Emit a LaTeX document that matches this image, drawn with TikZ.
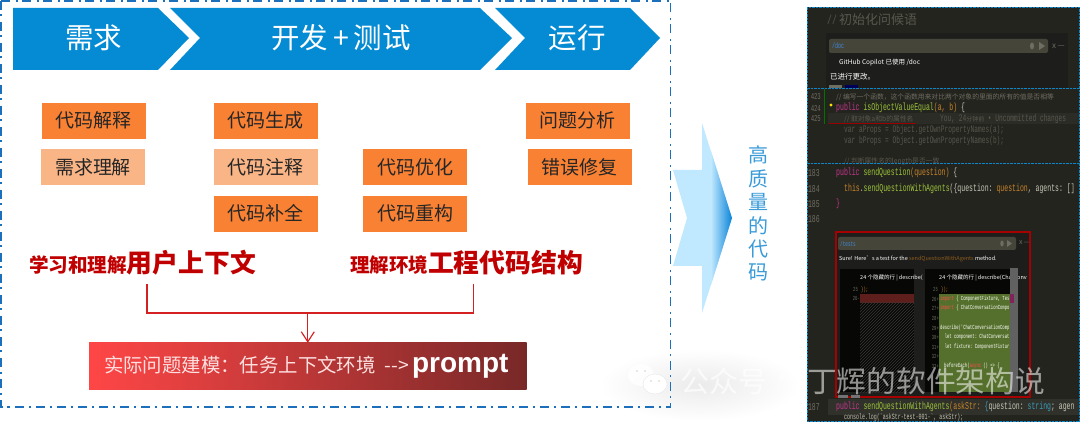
\documentclass[tikz,border=0pt]{standalone}
\usepackage{fontspec}
\setmainfont{Noto Sans CJK SC}
\setmonofont{Liberation Mono}[FakeStretch=0.62]
\newfontfamily\latinbold{Liberation Sans}
\usetikzlibrary{arrows.meta,patterns}
\newcommand{\fsz}[1]{\fontsize{#1}{#1}\selectfont}
\definecolor{chevblue}{HTML}{048BD3}
\definecolor{taskorange}{HTML}{F98133}
\definecolor{tasklight}{HTML}{F9B586}
\definecolor{framblue}{HTML}{1C6FBA}
\definecolor{headred}{HTML}{C00000}
\definecolor{linkred}{HTML}{D42020}
\definecolor{barleft}{HTML}{FF4646}
\definecolor{barright}{HTML}{782828}
\definecolor{arrowlight}{HTML}{C0E8FF}
\definecolor{arrowdark}{HTML}{0A84D8}
\definecolor{outblue}{HTML}{3A9BD8}
\definecolor{screenbg}{HTML}{24241F}
\definecolor{panelbg}{HTML}{1D1D1B}
\definecolor{inputbg}{HTML}{45453A}
\definecolor{paneblue}{HTML}{0A87C8}
\definecolor{codegrey}{HTML}{6E6E62}
\definecolor{dimgrey}{HTML}{58584E}
\definecolor{codepink}{HTML}{C8358F}
\definecolor{codegreen}{HTML}{9CC43A}
\definecolor{codeorange}{HTML}{C8842A}
\definecolor{codetext}{HTML}{C8C8B8}
\definecolor{codecyan}{HTML}{3A9CB8}
\definecolor{cmdblue}{HTML}{3E8CE0}
\definecolor{diffgreen}{HTML}{55702C}
\definecolor{diffred}{HTML}{5E1F1C}
\tikzset{
  chevlabel/.style={text=white,inner sep=0pt,font=\fsz{28.5}},
  taskbox/.style={fill=taskorange,draw=white,line width=.4pt,minimum width=105pt,minimum height=37pt,inner sep=0pt,font=\fsz{19},text=black!85},
  tasklite/.style={taskbox,fill=tasklight},
  ctxtitle/.style={text=headred,inner sep=0pt,font=\bfseries},
  linkline/.style={draw=linkred,line width=1.15pt},
  frameline/.style={draw=framblue,line width=1.5pt,dash pattern=on 9pt off 4.5pt on 2pt off 5.5pt},
  paneline/.style={draw=paneblue,line width=.9pt,dash pattern=on 2.5pt off 1pt},
  codeline/.style={anchor=west,inner sep=0pt,font=\ttfamily\fsz{#1}},
  codeline/.default=10.5,
  uitext/.style={anchor=west,inner sep=0pt,font=\fsz{#1}}
}
\begin{document}
\begin{tikzpicture}[x=1pt,y=-1pt]
\useasboundingbox (0,0) rectangle (1080,422);
% fog under the watermark
\shade [inner color=black!8,outer color=white] (700,385) ellipse (100 and 36);
% chevrons
\fill [chevblue] (13,8) -- (158,8) -- (189,38) -- (158,70) -- (13,70) -- cycle;
\fill [chevblue] (170,8) -- (480,8) -- (512,38) -- (480,70) -- (170,70) -- (200,38) -- cycle;
\fill [chevblue] (495,8) -- (630,8) -- (660,38) -- (630,70) -- (495,70) -- (525,38) -- cycle;
\node [chevlabel] (phasereq) at (93.5,38) {需求};
\node [chevlabel] (phasedev) at (341,38) {开发\,+\,测试};
\node [chevlabel] (phaserun) at (577,38) {运行};
% tasks
\node [taskbox] (taskexplain) at (93.5,120.5) {代码解释};
\node [tasklite] (taskreq) at (93,167) {需求理解};
\node [taskbox] (taskgen) at (265.5,120.5) {代码生成};
\node [tasklite] (taskcomment) at (265.5,167) {代码注释};
\node [taskbox] (taskfill) at (265.5,213.5) {代码补全};
\node [taskbox] (taskopt) at (415,167) {代码优化};
\node [taskbox] (taskrefactor) at (415,213.5) {代码重构};
\node [taskbox] (taskissue) at (577.5,120.5) {问题分析};
\node [taskbox] (taskfix) at (579.5,167) {错误修复};
% context
\node [ctxtitle] (ctxuser) at (142.5,263) {\fsz{19.6}学习和理解\fsz{25.8}用户上下文};
\node [ctxtitle] (ctxcode) at (466.5,263) {\fsz{19.5}理解环境\fsz{25.8}工程代码结构};
\coordinate (dropuser) at (147,284);
\coordinate (dropcode) at (473.5,284);
\coordinate (junction) at (307.8,313);
\node [left color=barleft,right color=barright,minimum width=437.5pt,minimum height=46pt,inner sep=0pt,text=white!88!red] (promptbar) at (307.8,366) {\hspace{-3pt}\fsz{19.4}实际问题建模\char"FF1A 任务上下文环境\hspace{9pt}{-}{-}>\hspace{3pt}{\latinbold\bfseries\fsz{28}\textcolor{white}{prompt}}};
\draw [frameline] (1,1) rectangle (670.5,407);
\draw [linkline] (dropuser) -- (dropuser |- junction) -- (junction);
\draw [linkline] (dropcode) -- (dropcode |- junction) -- (junction);
\draw [linkline,-{Straight Barb[length=10pt,width=13pt]}] (junction) -- (promptbar.north);
% block arrow
\fill [arrowlight] (673,170) -- (702,170) -- (702,123) -- (732,218) -- (702,313) -- (702,266) -- (673,266) -- (687,218) -- cycle;
\shade [left color=arrowlight,right color=arrowdark] (711,151) -- (732,218) -- (711,285) -- cycle;
\foreach \nm/\ch/\yy in {a/高/155,b/质/179,c/量/202,d/的/226,e/代/249,f/码/272}
  \node [inner sep=0pt,text=outblue,font=\fsz{20}] (out\nm) at (758,\yy) {\ch};
% screenshot
\begin{scope}
\clip (807,7) rectangle (1080,422);
\fill [screenbg] (807,7) rectangle (1080,422);
\node [codeline=13,text=dimgrey] (greet) at (827,20) {//\,{\normalfont 初始化问候语}};
\fill [panelbg] (826,33) rectangle (1068,88);
\fill [inputbg,rounded corners=2pt] (829,39) rectangle (1048,53);
\fill [codegrey] (1032,46) ellipse (2 and 3.5);
\fill [codegrey] (1039,42) -- (1045,46) -- (1039,50) -- cycle;
\node [codeline=8,text=cmdblue] (cmddoc) at (832,46) {/doc};
\node [uitext=8,text=codegrey] (closedoc) at (1052,46) {x\,—};
\node [uitext=6.5,text=white!70] (copilot) at (839,63) {GitHub Copilot 已使用 /doc};
\node [uitext=7.5,text=white!85] (donemsg) at (830,77) {已进行更改。};
\fill [codegrey] (829,85) rectangle (842,88);
\fill [blue!35!black] (845,85) rectangle (858,88);
\foreach \nm/\yy in {423/97,424/108,425/119}
  \node [codeline=9,text=codegrey,anchor=east] (ln\nm) at (821,\yy) {\nm};
\fill [black!60!codegrey] (828,113.5) rectangle (1080,124);
\draw [green!45!black,line width=1pt] (824,89) -- (824,124);
\draw [red!60!black,line width=.6pt] (829,123.5) -- (916,123.5);
\fill [yellow!80!orange] (831,105) circle (1.7);
\node [uitext=6.8,text=codegrey] (cmtfn) at (836,97) {// 编写一个函数\char"FF0C 这个函数用来对比两个对象的里面的所有的值是否相等};
\node [codeline,text=codetext] (cmtsig) at (836,108) {\textcolor{codepink}{public} \textcolor{codegreen}{isObjectValueEqual}\textcolor{codeorange}{(a, b)} \{};
\node [uitext=6.8,text=dimgrey] (cmtprop) at (844,119) {// 取对象a和b的属性名};
\node [codeline=10,text=dimgrey] (blameline) at (940,119) {You, 24{\normalfont\fsz{6}分钟前} • Uncommitted changes};
\node [codeline=10,text=dimgrey] (varA) at (844,130) {var aProps = Object.getOwnPropertyNames(a);};
\node [codeline=10,text=dimgrey] (varB) at (844,141) {var bProps = Object.getOwnPropertyNames(b);};
\node [uitext=6.8,text=dimgrey] (cmtlen) at (844,161) {// 判断属性名的length是否一致};
\foreach \nm/\yy in {183/173,184/189,185/204,186/219,187/407}
  \node [codeline=10.5,text=codegrey,anchor=east] (ln\nm) at (820,\yy) {\nm};
\node [codeline,text=codetext] (sendq) at (836,173) {\textcolor{codepink}{public} \textcolor{codegreen}{sendQuestion}\textcolor{codeorange}{(question)} \{};
\node [codeline,text=codetext] (sendcall) at (844,189) {\textcolor{codeorange}{this}.\textcolor{codegreen}{sendQuestionWithAgents}(\{question: \textcolor{codeorange}{question}, agents: []};
\node [codeline,text=codepink] (sendend) at (836,204) {\}};
% inner diff panel
\fill [panelbg] (836,232) rectangle (1030,397);
\fill [inputbg,rounded corners=2pt] (838,237) rectangle (1016,250);
\fill [codegrey] (1002,243.5) ellipse (1.7 and 3);
\fill [codegrey] (1007,240) -- (1012,243.5) -- (1007,247) -- cycle;
\node [codeline=7,text=cmdblue] (cmdtests) at (840,243.5) {/tests};
\node [uitext=7,text=codegrey] (closetests) at (1019,243) {x\,—};
\node [uitext=5.5,text=white!75] (suremsg) at (839,259) {Sure! Here's a test for the \textcolor{codeorange!70!black}{sendQuestionWithAgents} method.};
\fill [black!80!screenbg] (840,269) rectangle (914,392);
\fill [black!80!screenbg] (925,269) rectangle (1010,392);
\node [uitext=5.5,text=white!60] (diffL) at (860,278) {24 个隐藏的行 | describe(};
\node [uitext=5.5,text=white!60] (diffR) at (939,278) {24 个隐藏的行 | describe(ChatConv};
\node [codeline=6.2,text=codegrey,anchor=east] (numL) at (858,289.5) {25};
\node [codeline=6.2,text=codeorange] (codeL) at (861,289.5) {\});};
\node [codeline=6.2,text=codegrey,anchor=east] (numR) at (938,289.5) {25};
\node [codeline=6.2,text=codeorange] (codeR) at (941,289.5) {\});};
\fill [diffred] (860,294) rectangle (914,303);
\fill [pattern=north east lines,pattern color=white!22!black] (860,303) rectangle (914,392);
\node [codeline=6.2,text=codegrey,anchor=east] (numD) at (860,298.5) {26-};
\fill [diffgreen] (939,294) rectangle (1010,392);
\fill [white!38!black] (1010,268) rectangle (1018,392);
\fill [codepink!65!black] (1010,294) rectangle (1014,303);
\foreach \nm/\yy/\tx in {26/299/{\textcolor{red!70!white}{import} \{ ComponentFixture, Tes},27/308/{\textcolor{red!70!white}{import} \{ ChatConversationCompo},29/328/{describe('ChatConversationComp},30/337/{\ \ let component: ChatConversat},31/347/{\ \ let fixture: ComponentFixtur}}
  \node [codeline=6.2,text=white!85] (diff\nm) at (940,\yy) {\tx};
\foreach \nm/\yy in {26/299,27/308,28/318,29/328,30/337,31/347,32/356,33/366}
  \node [codeline=6.2,text=codegrey,anchor=east] (dnum\nm) at (939,\yy) {\nm+};
\node [codeline=6.2,text=white!85] (diffbefore) at (944,366) {beforeEach(\textcolor{red!70!white}{async} () => \{};
\draw [red!65!black,line width=1.2pt] (836,232) rectangle (1030,397);
\fill [white!45!black] (838,395) rectangle (848,398);
\fill [white!45!black] (851,395) rectangle (860,398);
\fill [yellow!80!orange] (830.5,402) circle (1.7);
\fill [black!55!codegrey] (828,399) rectangle (1080,415);
\node [codeline,text=codetext] (sendagents) at (836,407) {\textcolor{codepink}{public} \textcolor{codegreen}{sendQuestionWithAgents}\textcolor{codeorange}{(askStr:} \textcolor{codecyan}{\{}question: \textcolor{codecyan}{string}; agen};
\node [codeline=8,text=codetext] (consolelog) at (844,417.5) {console.log(`askStr-test-001-`, askStr);};
\end{scope}
\draw [paneline] (807.5,7.5) rectangle (1079.5,421.5);
\draw [paneline] (807,88) -- (1080,88);
\draw [paneline] (807,163) -- (1080,163);
% watermark
\fill [white,opacity=.85] (641,375) ellipse (13 and 11);
\fill [white,draw=black!8,line width=.5pt] (655,384) ellipse (12 and 10);
\foreach \xx/\yy in {637/371,645/371,651/381,659/381}
  \fill [black!12] (\xx,\yy) circle (1.2);
\node [inner sep=0pt,text=white,font=\fsz{29},opacity=.7] (wmarkA) at (723.5,381) {公众号};
\node [inner sep=0pt,text=white,font=\fsz{29},opacity=.5] (wmarkdot) at (782,381) {·};
\node [inner sep=0pt,text=white,font=\fsz{29.7},opacity=.55] (wmarkB) at (926,381) {丁辉的软件架构说};
\end{tikzpicture}
\end{document}
